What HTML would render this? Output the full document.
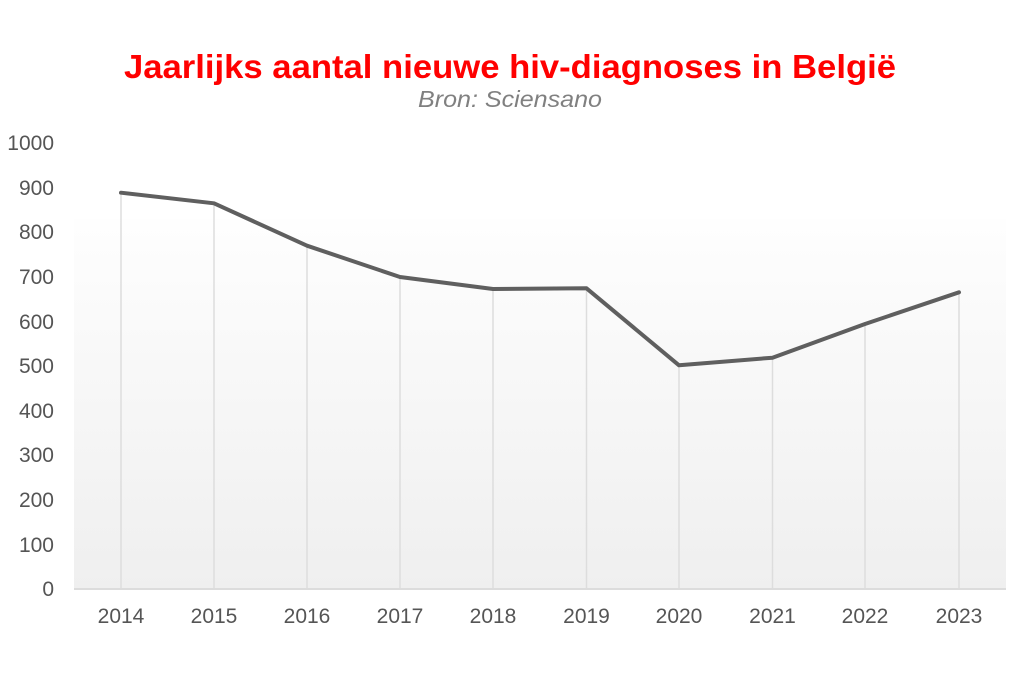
<!DOCTYPE html>
<html>
<head>
<meta charset="utf-8">
<style>
  html,body{margin:0;padding:0;background:#fff;}
  svg{display:block;}
</style>
</head>
<body>
<svg width="1024" height="680" viewBox="0 0 1024 680" xmlns="http://www.w3.org/2000/svg">
  <defs>
    <linearGradient id="bg" x1="0" y1="0" x2="0" y2="1">
      <stop offset="0" stop-color="#fefefe"/>
      <stop offset="1" stop-color="#efefef"/>
    </linearGradient>
  </defs>
  <rect x="0" y="0" width="1024" height="680" fill="#ffffff"/>
  <rect x="74" y="219" width="932" height="370" fill="url(#bg)"/>

  <text x="124" y="78" font-family="Liberation Sans, Arial, sans-serif" font-weight="bold" font-size="33" fill="#ff0000" textLength="772" lengthAdjust="spacingAndGlyphs">Jaarlijks aantal nieuwe hiv-diagnoses in België</text>
  <text x="418" y="107" font-family="Liberation Sans, Arial, sans-serif" font-style="italic" font-size="23" fill="#808080" textLength="184" lengthAdjust="spacingAndGlyphs">Bron: Sciensano</text>

  <g font-family="Liberation Sans, Arial, sans-serif" font-size="21" fill="#555555" text-anchor="end">
    <text x="54" y="150">1000</text>
    <text x="54" y="195">900</text>
    <text x="54" y="239">800</text>
    <text x="54" y="284">700</text>
    <text x="54" y="329">600</text>
    <text x="54" y="373">500</text>
    <text x="54" y="418">400</text>
    <text x="54" y="462">300</text>
    <text x="54" y="507">200</text>
    <text x="54" y="552">100</text>
    <text x="54" y="596">0</text>
  </g>

  <g stroke="#dddddd" stroke-width="1.5">
    <line x1="121" y1="193" x2="121" y2="589"/>
    <line x1="214" y1="203" x2="214" y2="589"/>
    <line x1="307" y1="246" x2="307" y2="589"/>
    <line x1="400" y1="277" x2="400" y2="589"/>
    <line x1="493" y1="289" x2="493" y2="589"/>
    <line x1="586.5" y1="288" x2="586.5" y2="589"/>
    <line x1="679" y1="365" x2="679" y2="589"/>
    <line x1="772.5" y1="358" x2="772.5" y2="589"/>
    <line x1="865" y1="324" x2="865" y2="589"/>
    <line x1="959" y1="292" x2="959" y2="589"/>
  </g>
  <line x1="74" y1="589" x2="1006" y2="589" stroke="#dcdcdc" stroke-width="2"/>

  <polyline fill="none" stroke="#5f5f5f" stroke-width="4" stroke-linejoin="round" stroke-linecap="round"
    points="121,192.7 214,203.3 307,245.7 400,277 493,289 586.5,288.3 679,365.3 772.5,357.7 865,324 959,292.3"/>

  <g font-family="Liberation Sans, Arial, sans-serif" font-size="21" fill="#555555" text-anchor="middle">
    <text x="121" y="623">2014</text>
    <text x="214" y="623">2015</text>
    <text x="307" y="623">2016</text>
    <text x="400" y="623">2017</text>
    <text x="493" y="623">2018</text>
    <text x="586.5" y="623">2019</text>
    <text x="679" y="623">2020</text>
    <text x="772.5" y="623">2021</text>
    <text x="865" y="623">2022</text>
    <text x="959" y="623">2023</text>
  </g>
</svg>
</body>
</html>
